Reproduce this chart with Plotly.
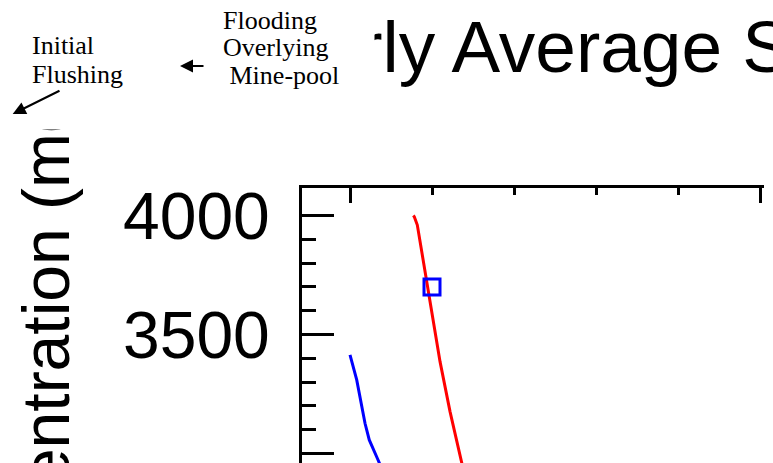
import plotly.graph_objects as go

# ---- data (years since start, sulfate mg/L) ----
red_years = [0.772, 0.784, 0.821, 0.955, 1.098, 1.220, 1.350, 1.403]
red_conc = [4000, 3995, 3960, 3680, 3386, 3176, 2980, 2900]
blue_years = [0.0, 0.082, 0.183, 0.235, 0.333, 0.433]
blue_conc = [3414, 3309, 3127, 3057, 2980, 2900]
obs_years = [1.0]
obs_conc = [3700]

y_tickvals = [3000, 3500, 4000]
y_ticktext = ["3000", "3500", "4000"]
y_minor = [2900, 3100, 3200, 3300, 3400, 3600, 3700, 3800, 3900]

title_text = "Yearly Average Sulfate Concentration"
ytitle_text = "Sulfate Concentration (mg/L)"

W, H = 773, 463
PL, PR, PT, PB = 302, 764, 188, 463


def px2x(px):
    return (px - PL) / (PR - PL)


def py2y(py):
    return (PB - py) / (PB - PT)


SANS = "Liberation Sans, Arial, sans-serif"
SERIF = "Liberation Serif, Times New Roman, serif"

fig = go.Figure()
fig.add_trace(go.Scatter(x=blue_years, y=blue_conc, mode="lines",
                         line=dict(color="#0000ff", width=3), showlegend=False))
fig.add_trace(go.Scatter(x=red_years, y=red_conc, mode="lines",
                         line=dict(color="#ff0000", width=3), showlegend=False))
fig.add_trace(go.Scatter(x=obs_years, y=obs_conc, mode="markers",
                         marker=dict(symbol="square-open", size=16, color="#0000ff",
                                     line=dict(color="#0000ff", width=3)),
                         showlegend=False))

anns = []
# title (partially hidden by the text boxes)
anns.append(dict(text=title_text, x=px2x(233), y=py2y(46.0), xref="paper", yref="paper",
                 xanchor="left", yanchor="middle", showarrow=False,
                 font=dict(family=SANS, size=73, color="black")))
# y axis title
anns.append(dict(text=ytitle_text, x=px2x(46), y=py2y(441), xref="paper", yref="paper",
                 xanchor="center", yanchor="middle", showarrow=False, textangle=-90,
                 font=dict(family=SANS, size=66, color="black")))
# white text-box background hiding parts of the titles
anns.append(dict(text=" ", x=px2x(375), y=py2y(0), xref="paper", yref="paper",
                 xanchor="right", yanchor="top", showarrow=False,
                 width=375, height=128, bgcolor="white", borderpad=0,
                 font=dict(family=SERIF, size=10)))
# note texts
for txt, lx, base in [("Initial", 30, 53.3), ("Flushing", 30, 82.7),
                      ("Flooding", 221, 28.3), ("Overlying", 220.7, 55),
                      (" Mine-pool", 221, 83.3)]:
    anns.append(dict(text=txt, x=px2x(lx), y=py2y(base - 8), xref="paper", yref="paper",
                     xanchor="left", yanchor="middle", showarrow=False,
                     font=dict(family=SERIF, size=26, color="black")))
# arrows
for tip, tail in [((12.7, 114), (61, 90)), ((180, 66), (205, 66))]:
    anns.append(dict(text="", x=px2x(tip[0]), y=py2y(tip[1]), xref="paper", yref="paper",
                     ax=tail[0] - tip[0], ay=tail[1] - tip[1], axref="pixel", ayref="pixel",
                     showarrow=True, arrowhead=2, arrowsize=1.3, arrowwidth=2,
                     arrowcolor="black"))

fig.update_layout(
    width=W, height=H,
    margin=dict(l=PL, r=W - PR, t=PT, b=H - PB, pad=0),
    paper_bgcolor="white", plot_bgcolor="white",
    annotations=anns,
    xaxis=dict(range=[(PL - 350) / 82, (PR - 350) / 82], side="top",
               showline=True, linewidth=3, linecolor="black",
               ticks="inside", tick0=0, dtick=5, ticklen=15, tickwidth=3, tickcolor="black",
               minor=dict(ticks="inside", dtick=1, tick0=0, ticklen=7, tickwidth=3,
                          tickcolor="black", showgrid=False),
               showticklabels=False, showgrid=False, zeroline=False, automargin=False),
    yaxis=dict(range=[3000 - (PB - 453.5) / 0.238, 4000 + (215.5 - PT) / 0.238],
               showline=True, linewidth=3, linecolor="black",
               ticks="inside", tickmode="array", tickvals=y_tickvals, ticktext=y_ticktext,
               ticklen=32, tickwidth=3, tickcolor="black",
               minor=dict(ticks="inside", tickmode="array", tickvals=y_minor, ticklen=14,
                          tickwidth=3, tickcolor="black", showgrid=False),
               tickfont=dict(family=SANS, size=66, color="black"),
               ticklabelstandoff=16,
               showgrid=False, zeroline=False, automargin=False),
)

fig.write_html("out.html")
